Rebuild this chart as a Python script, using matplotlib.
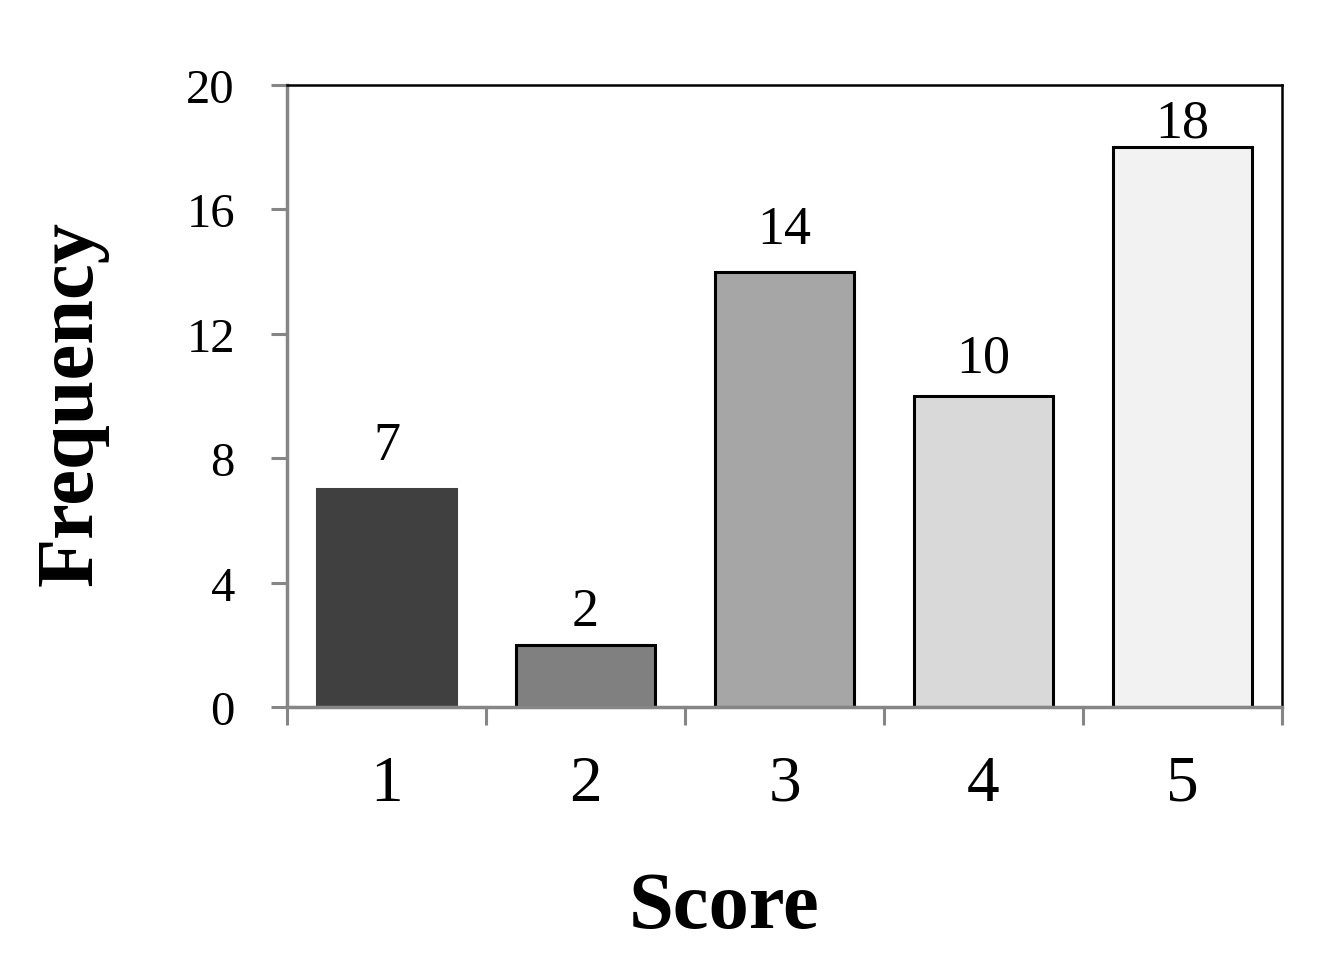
import matplotlib
matplotlib.use("Agg")
import matplotlib.pyplot as plt
import numpy as np

categories = ["1", "2", "3", "4", "5"]
values = [7, 2, 14, 10, 18]
yticks = [0, 4, 8, 12, 16, 20]

bar_colors = ["#404040", "#808080", "#a6a6a6", "#d9d9d9", "#f2f2f2"]
edge_colors = ["#404040", "black", "black", "black", "black"]
label_offsets_px = [30, 20, 29, 24, 11]

plt.rcParams['font.family'] = ['Liberation Serif', 'DejaVu Serif']

fig = plt.figure(figsize=(13.43, 9.79), dpi=100)
ax = fig.add_axes([287/1343, 1-708/979, (1282-287)/1343, (708-86)/979])

x = np.arange(len(categories))
bars = ax.bar(x, values, width=0.7, color=bar_colors, edgecolor=edge_colors, linewidth=2.2, zorder=2)

for i, (b, v) in enumerate(zip(bars, values)):
    ax.annotate(str(v), (b.get_x() + b.get_width()/2, v),
                xytext=(0, label_offsets_px[i]*0.72), textcoords='offset points',
                ha='center', va='baseline', fontsize=39)

ax.set_xlim(-0.5, len(categories) - 0.5)
ax.set_ylim(0, 20)
ax.set_yticks(yticks)
ax.set_yticklabels([str(t) for t in yticks])
ax.set_xticks(x)
ax.set_xticklabels(categories)
ax.set_xticks(np.arange(-0.5, len(categories), 1.0), minor=True)

gray = "#868686"
for s in ['left', 'bottom']:
    ax.spines[s].set_color(gray)
    ax.spines[s].set_linewidth(2.5)
for s in ['top', 'right']:
    ax.spines[s].set_color('black')
    ax.spines[s].set_linewidth(1.8)

ax.tick_params(axis='y', which='major', length=11.5, width=2.2, color=gray,
               labelsize=35, pad=26)
ax.tick_params(axis='x', which='major', length=0, labelsize=47, pad=34)
ax.tick_params(axis='x', which='minor', length=13, width=2.2, color=gray)
ax.tick_params(axis='y', which='minor', length=0)

fig.text(724/1343, 1-928/979, "Score", fontsize=58, fontweight='bold',
         ha='center', va='baseline')
fig.text(72/1343, 1-403/979, "Frequency", fontsize=58, fontweight='bold',
         ha='center', va='center', rotation=90)

fig.savefig("out.png", dpi=100)
